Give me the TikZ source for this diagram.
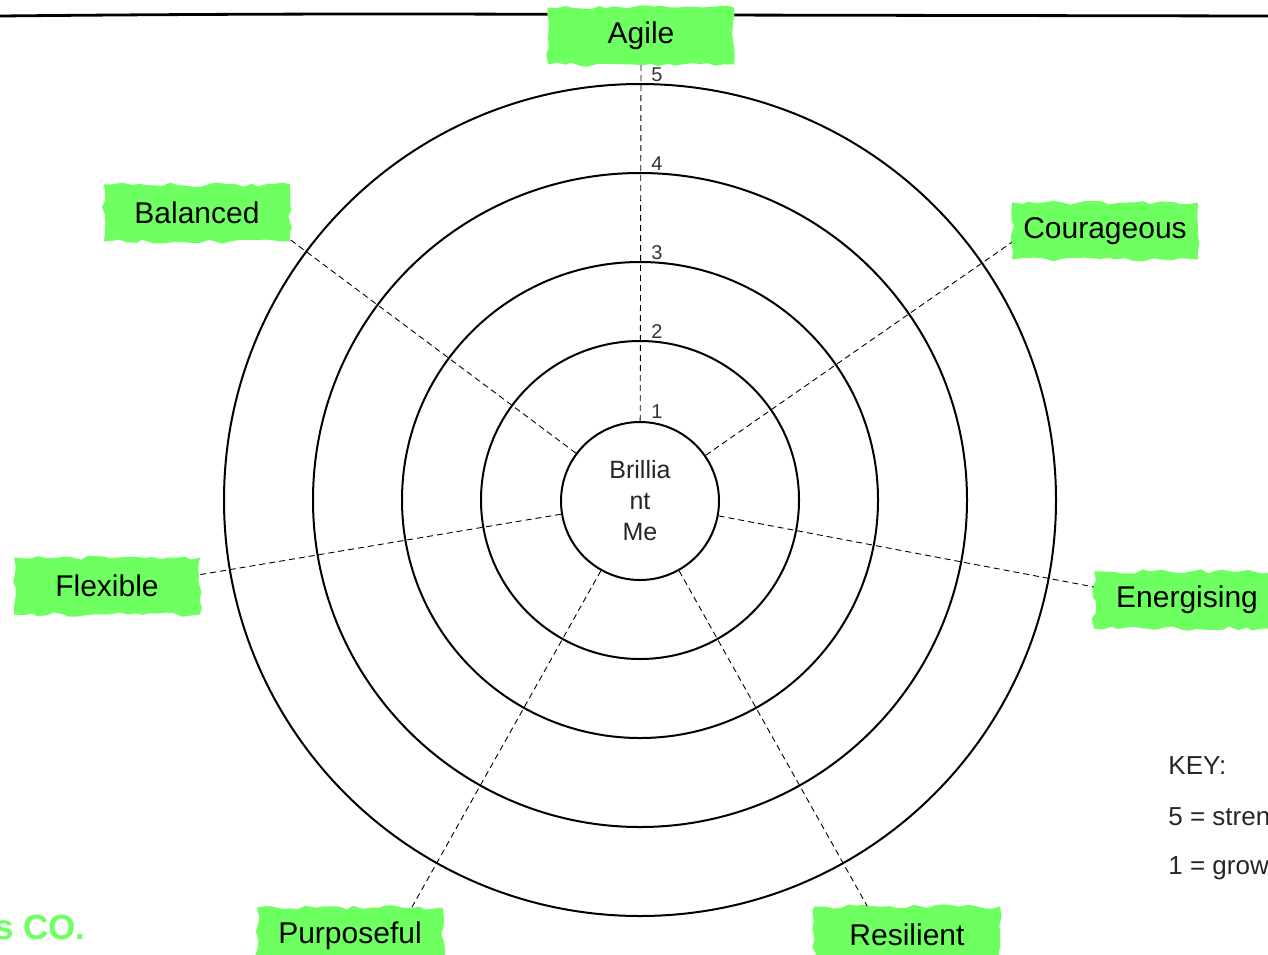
\documentclass[tikz,border=0pt]{standalone}
\usepackage{fontspec}
\setmainfont{Liberation Sans}
\usetikzlibrary{decorations.pathmorphing}
\definecolor{brushgreen}{RGB}{110,255,96}
\tikzset{
  brush/.style={fill=brushgreen, decorate,
    decoration={random steps, segment length=4pt, amplitude=1.1pt},
    minimum width=93pt, minimum height=28.5pt, inner sep=0pt,
    font=\fontsize{15}{18}\selectfont},
  ring/.style={line width=1pt},
  spoke/.style={densely dashed, line width=0.45pt},
  scalenum/.style={anchor=south west, inner sep=0pt,
    font=\fontsize{10}{12}\selectfont, text=black!80},
  keytext/.style={anchor=west, inner sep=0pt,
    font=\fontsize{13}{15}\selectfont, text=black!85}
}

\begin{document}
\begin{tikzpicture}[x=0.5pt,y=-0.5pt]
    \useasboundingbox (0,0) rectangle (1268,954);
    % rule along the top
    \draw[line width=1.4pt] (0,16) .. controls (300,13) and (500,14) .. (700,15) -- (1268,16);
    % rings 2 to 5
    \foreach \r in {159,238,327,416}
      \draw[ring] (640,500) circle[radius=\r];
    \node[circle, draw, ring, fill=white, minimum size=79pt, inner sep=0pt, align=center,
      font=\fontsize{12.5}{15.5}\selectfont, text=black!85] (me) at (640,501) {Brillia\\nt\\Me};
    % scale
    \foreach \n/\r in {1/79,2/159,3/238,4/327,5/416}
      \node[scalenum] (num\n) at (651,498-\r) {\n};
    % labels
    \node[brush] (agile) at (641,36) {Agile};
    \node[brush] (balanced) at (197,213) {Balanced};
    \node[brush] (courageous) at (1105,231) {Courageous};
    \node[brush] (flexible) at (107,586) {Flexible};
    \node[brush] (energising) at (1187,600) {Energising};
    \node[brush] (purposeful) at (350,936) {Purposeful};
    \node[brush] (resilient) at (907,935) {Resilient};
    % spokes
    \draw[spoke] (me) -- (agile.south);
    \draw[spoke] (me) -- (balanced.344);
    \draw[spoke] (me) -- (courageous.187);
    \draw[spoke] (me) -- (flexible.7);
    \draw[spoke] (me) -- (energising.172);
    \draw[spoke] (me) -- (purposeful.25);
    \draw[spoke] (me) -- (resilient.144);
    % key
    \node[keytext] (key) at (1168,766) {KEY:};
    \node[keytext] (keyhigh) at (1168,817) {5 = stren};
    \node[keytext] (keylow) at (1168,868) {1 = grow};
    \node[anchor=east, inner sep=0pt, text=brushgreen,
      font=\bfseries\fontsize{17.5}{20}\selectfont] (company) at (86,927) {s CO.};
\end{tikzpicture}
\end{document}
